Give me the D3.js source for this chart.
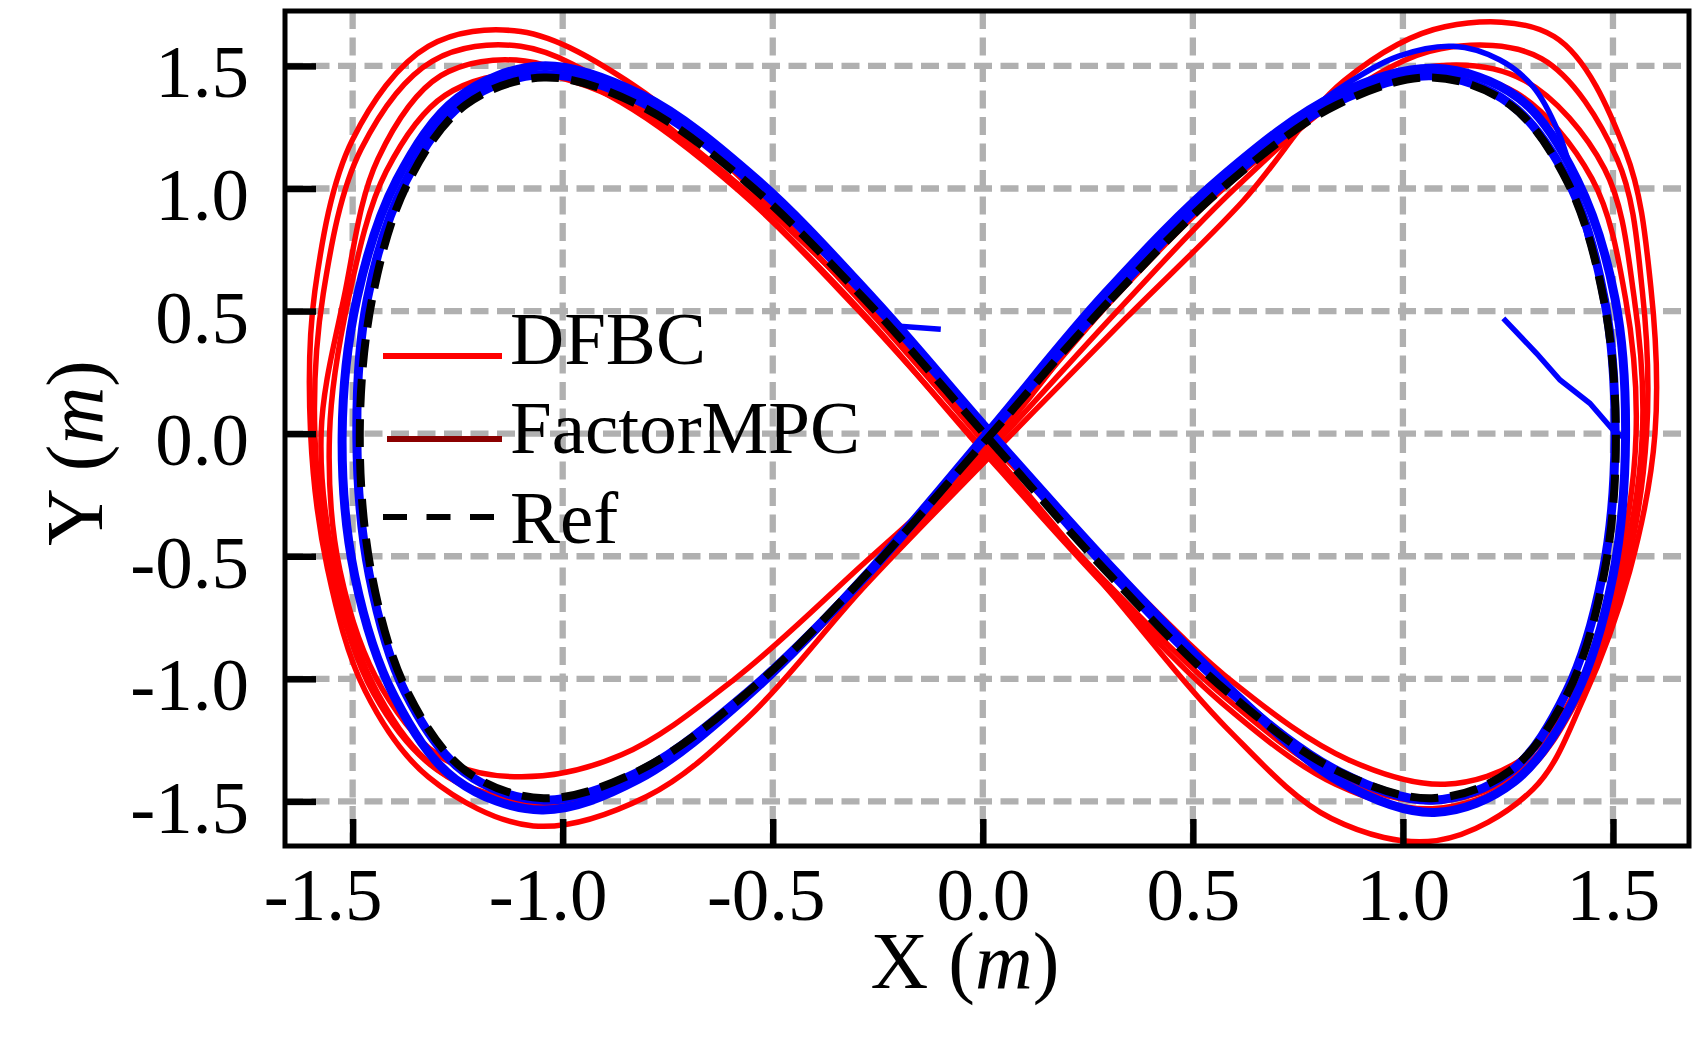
<!DOCTYPE html>
<html>
<head>
<meta charset="utf-8">
<script src="https://cdn.jsdelivr.net/npm/d3@7"></script>
<style>
body { margin: 0; background: #fff; }
text { font-family: "Liberation Serif", "Times New Roman", serif; }
</style>
</head>
<body>
<svg id="chart" width="1703" height="1048"></svg>
<script>
// tick values
var xTicks = [-1.5, -1.0, -0.5, 0.0, 0.5, 1.0, 1.5]
var yTicks = [-1.5, -1.0, -0.5, 0.0, 0.5, 1.0, 1.5]

// reference figure-eight
var refPath = [[0.012,-0.017],[0.304,0.546],[0.584,1.022],[0.843,1.341],[1.069,1.453],[1.255,1.341],[1.393,1.022],[1.478,0.546],
	[1.507,-0.017],[1.478,-0.580],[1.393,-1.056],[1.255,-1.375],[1.069,-1.487],[0.843,-1.375],[0.584,-1.056],[0.304,-0.580],
	[0.012,-0.017],[-0.280,0.546],[-0.560,1.022],[-0.819,1.341],[-1.045,1.453],[-1.231,1.341],[-1.369,1.022],[-1.454,0.546],
	[-1.483,-0.017],[-1.454,-0.580],[-1.369,-1.056],[-1.231,-1.375],[-1.045,-1.487],[-0.819,-1.375],[-0.560,-1.056],[-0.280,-0.580]]

// DFBC laps (red)
var dfbcLapA = [[0.03,-0.07],[0.34,0.47],[0.62,0.95],[0.86,1.44],[1.10,1.66],[1.36,1.62],[1.53,1.15],[1.59,0.60],
	[1.60,0.0],[1.54,-0.56],[1.43,-1.08],[1.31,-1.45],[1.08,-1.66],[0.83,-1.57],[0.58,-1.20],[0.31,-0.66],
	[0.02,-0.07],[-0.27,0.50],[-0.55,1.00],[-0.83,1.42],[-1.10,1.64],[-1.32,1.58],[-1.50,1.20],[-1.59,0.58],
	[-1.60,0.0],[-1.56,-0.55],[-1.47,-1.05],[-1.32,-1.40],[-1.07,-1.60],[-0.80,-1.48],[-0.56,-1.16],[-0.28,-0.62]]
var dfbcLapB = [[0.02,-0.06],[0.32,0.50],[0.60,1.00],[0.86,1.38],[1.09,1.57],[1.33,1.53],[1.51,1.12],[1.57,0.58],
	[1.58,0.0],[1.53,-0.56],[1.42,-1.07],[1.28,-1.40],[1.07,-1.53],[0.84,-1.43],[0.57,-1.10],[0.29,-0.62],
	[0.00,-0.07],[-0.29,0.50],[-0.57,0.98],[-0.85,1.38],[-1.10,1.58],[-1.31,1.52],[-1.48,1.16],[-1.57,0.57],
	[-1.59,0.0],[-1.55,-0.56],[-1.45,-1.06],[-1.30,-1.37],[-1.07,-1.52],[-0.83,-1.41],[-0.57,-1.09],[-0.29,-0.60]]
var dfbcLapC = [[0.01,-0.05],[0.30,0.53],[0.58,1.01],[0.85,1.36],[1.08,1.50],[1.29,1.44],[1.48,1.08],[1.55,0.56],
	[1.57,0.0],[1.52,-0.56],[1.41,-1.07],[1.27,-1.39],[1.07,-1.50],[0.84,-1.40],[0.58,-1.08],[0.29,-0.60],
	[0.00,-0.06],[-0.30,0.51],[-0.58,0.99],[-0.86,1.35],[-1.09,1.52],[-1.29,1.46],[-1.44,1.12],[-1.52,0.56],
	[-1.575,0.0],[-1.54,-0.56],[-1.44,-1.06],[-1.29,-1.38],[-1.06,-1.50],[-0.82,-1.39],[-0.56,-1.07],[-0.28,-0.60]]
var dfbcLapD = [[0.01,-0.06],[0.29,0.53],[0.57,1.02],[0.84,1.35],[1.07,1.47],[1.27,1.39],[1.45,1.04],[1.53,0.55],
	[1.555,0.0],[1.51,-0.56],[1.42,-1.02],[1.29,-1.32],[1.10,-1.43],[0.87,-1.33],[0.60,-1.02],[0.31,-0.55],
	[0.02,-0.04],[-0.28,0.53],[-0.57,1.00],[-0.84,1.34],[-1.08,1.47],[-1.28,1.38],[-1.42,1.07],[-1.51,0.55],
	[-1.555,0.0],[-1.53,-0.56],[-1.43,-1.04],[-1.28,-1.33],[-1.10,-1.40],[-0.86,-1.31],[-0.59,-1.00],[-0.29,-0.54]]

// FactorMPC laps (blue)
var factorLap1 = [[0.01,0.0],[0.29,0.57],[0.57,1.05],[0.84,1.38],[1.075,1.49],[1.275,1.37],[1.415,1.035],[1.505,0.55],
	[1.53,-0.01],[1.50,-0.58],[1.41,-1.075],[1.265,-1.42],[1.075,-1.545],[0.85,-1.42],[0.60,-1.06],[0.32,-0.57],
	[0.02,0.0],[-0.26,0.55],[-0.54,1.04],[-0.81,1.38],[-1.05,1.50],[-1.25,1.37],[-1.395,1.035],[-1.49,0.55],
	[-1.525,-0.01],[-1.495,-0.58],[-1.40,-1.075],[-1.255,-1.41],[-1.05,-1.535],[-0.82,-1.41],[-0.56,-1.07],[-0.28,-0.58]]
var factorLap2 = [[0.01,-0.01],[0.30,0.55],[0.58,1.03],[0.84,1.35],[1.07,1.46],[1.255,1.345],[1.395,1.025],[1.48,0.545],
	[1.505,-0.015],[1.475,-0.575],[1.39,-1.05],[1.255,-1.38],[1.07,-1.495],[0.85,-1.38],[0.59,-1.055],[0.31,-0.575],
	[0.02,-0.01],[-0.27,0.55],[-0.55,1.025],[-0.81,1.35],[-1.045,1.465],[-1.235,1.35],[-1.375,1.025],[-1.465,0.55],
	[-1.49,-0.015],[-1.46,-0.58],[-1.375,-1.055],[-1.235,-1.38],[-1.045,-1.495],[-0.82,-1.38],[-0.56,-1.055],[-0.275,-0.575]]
var factorArc = [[0.60,1.07],[0.74,1.27],[0.86,1.42],[0.99,1.54],[1.12,1.58],[1.23,1.525],[1.31,1.415],[1.37,1.23],[1.41,1.01],[1.44,0.80]]
var factorStart = [[1.239,0.47],[1.318,0.328],[1.374,0.219],[1.445,0.124],[1.50,0.015],[1.528,-0.019]]
var factorEnd = [[-0.214,0.440],[-0.100,0.426]]

var legendNames = ["DFBC", "FactorMPC", "Ref"]
var legendColors = ["#ff0000", "#8b0000", "#000000"]

// plot box
var plotLeft = 285, plotRight = 1689, plotTop = 11, plotBottom = 846

var svg = d3.select("#chart")
var x = d3.scaleLinear().domain([-1.661, 1.681]).range([plotLeft, plotRight])
var y = d3.scaleLinear().domain([-1.682, 1.724]).range([plotBottom, plotTop])

var fmt = d => d.toFixed(1)
// negative x labels sit a little left of their ticks in the original
var xLabelShift = d => d < -1.2 ? -30 : d < -0.7 ? -15 : d < 0 ? -7 : 0

// grid
var grid = svg.append("g")
grid.selectAll(".gx").data(xTicks).enter().append("line")
	.attr("x1", d => x(d)).attr("x2", d => x(d))
	.attr("y1", plotTop).attr("y2", plotBottom)
	.style("stroke", "#b0b0b0").style("stroke-width", 6.3).style("stroke-dasharray", "18,8.5")
grid.selectAll(".gy").data(yTicks).enter().append("line")
	.attr("y1", d => y(d)).attr("y2", d => y(d))
	.attr("x1", plotLeft).attr("x2", plotRight)
	.style("stroke", "#b0b0b0").style("stroke-width", 6.3).style("stroke-dasharray", "18,8.5")

var lapLine = d3.line().x(d => x(d[0])).y(d => y(d[1])).curve(d3.curveCatmullRomClosed)
var arcLine = d3.line().x(d => x(d[0])).y(d => y(d[1])).curve(d3.curveCatmullRom)
var segLine = d3.line().x(d => x(d[0])).y(d => y(d[1]))

// DFBC
svg.append("g").selectAll("path").data([dfbcLapA, dfbcLapB, dfbcLapC, dfbcLapD]).enter().append("path")
	.attr("d", lapLine)
	.style("fill", "none").style("stroke", "#ff0000").style("stroke-width", 5.5)

// FactorMPC
var blue = svg.append("g")
blue.selectAll("path.lap").data([factorLap1, factorLap2]).enter().append("path")
	.attr("d", lapLine)
	.style("fill", "none").style("stroke", "#0000ff").style("stroke-width", 9)
blue.append("path").attr("d", arcLine(factorArc))
	.style("fill", "none").style("stroke", "#0000ff").style("stroke-width", 5.5)
blue.selectAll("path.stub").data([factorStart, factorEnd]).enter().append("path")
	.attr("d", segLine)
	.style("fill", "none").style("stroke", "#0000ff").style("stroke-width", 5.5)

// Ref
svg.append("path").attr("d", lapLine(refPath))
	.style("fill", "none").style("stroke", "#000").style("stroke-width", 8)
	.style("stroke-dasharray", "28,12")

// axes
var xAxis = svg.append("g").attr("transform", "translate(0," + plotBottom + ")")
	.call(d3.axisBottom(x).tickValues(xTicks).tickFormat(fmt).tickSizeInner(-27).tickSizeOuter(0))
var yAxis = svg.append("g").attr("transform", "translate(" + plotLeft + ",0)")
	.call(d3.axisLeft(y).tickValues(yTicks).tickFormat(fmt).tickSizeInner(-31).tickSizeOuter(0))
svg.selectAll(".domain").remove()
svg.selectAll(".tick line").style("stroke", "#000").style("stroke-width", 6.5)
xAxis.selectAll("text").attr("y", 74).attr("dy", null).attr("x", xLabelShift)
	.style("font-size", "75px").style("font-family", "Liberation Serif").attr("fill", "#000")
yAxis.selectAll("text").attr("x", -36).attr("y", 31).attr("dy", null)
	.style("font-size", "75px").style("font-family", "Liberation Serif").attr("fill", "#000")

// frame
svg.append("rect")
	.attr("x", plotLeft).attr("y", plotTop)
	.attr("width", plotRight - plotLeft).attr("height", plotBottom - plotTop)
	.style("fill", "none").style("stroke", "#000").style("stroke-width", 5)

// axis titles
var xt = svg.append("text").attr("x", 965).attr("y", 988)
	.attr("text-anchor", "middle").style("font-size", "80px")
xt.append("tspan").text("X (")
xt.append("tspan").style("font-style", "italic").text("m")
xt.append("tspan").text(")")
var yt = svg.append("text").attr("transform", "translate(102,453) rotate(-90)")
	.attr("text-anchor", "middle").style("font-size", "80px")
yt.append("tspan").text("Y (")
yt.append("tspan").style("font-style", "italic").text("m")
yt.append("tspan").text(")")

// legend
var legendLineY = [356, 439, 517]
var legendTextY = [364, 453, 543]
var legend = svg.append("g")
legendNames.forEach((name, i) => {
	legend.append("line")
		.attr("x1", i === 1 ? 387 : 383).attr("x2", 502)
		.attr("y1", legendLineY[i]).attr("y2", legendLineY[i])
		.style("stroke", legendColors[i]).style("stroke-width", 6)
		.style("stroke-dasharray", i === 2 ? "24,19.5" : null)
	legend.append("text").attr("x", 510).attr("y", legendTextY[i])
		.style("font-size", "75px").text(name)
})
</script>
</body>
</html>
